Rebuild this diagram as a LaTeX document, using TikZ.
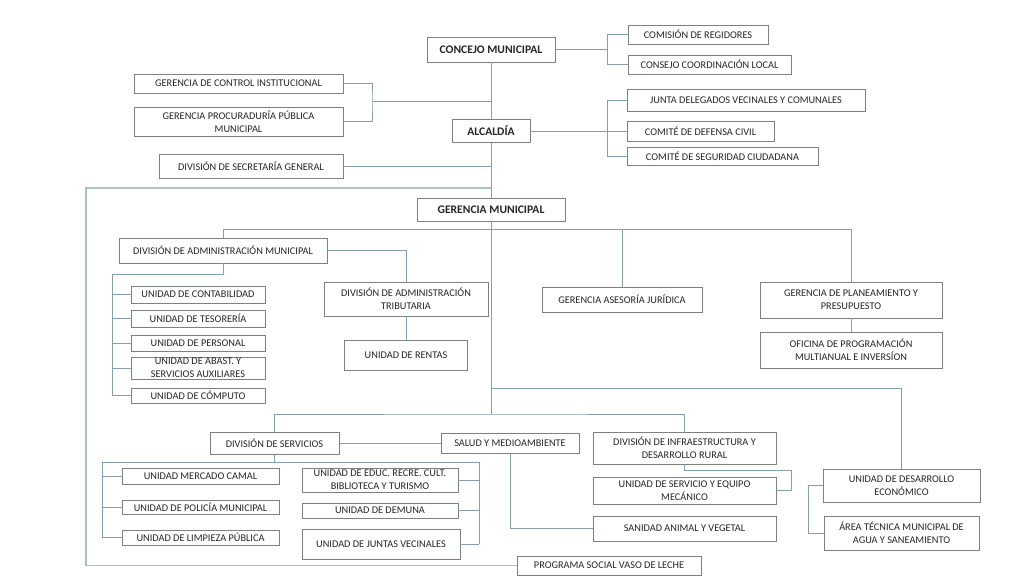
\documentclass[tikz,border=0pt]{standalone}
\usepackage{fontspec}
\setmainfont{Carlito}
\usepackage{tikz}

\definecolor{linea}{RGB}{132,160,178}
\definecolor{lineafuera}{RGB}{170,192,194}
\definecolor{borde}{RGB}{128,128,128}
\definecolor{texto}{RGB}{38,38,38}

\begin{document}
\begin{tikzpicture}[x=1pt, y=-1pt,
  caja/.style 2 args={draw=borde, line width=0.8pt, fill=white, inner sep=0pt,
    minimum width=#1pt, minimum height=#2pt, align=center, text=texto,
    font=\fontsize{10.3}{13}\selectfont},
  jefe/.style 2 args={caja={#1}{#2}, font=\fontsize{11.6}{13}\selectfont\bfseries},
  lin/.style={draw=linea, line width=0.8pt}]
  \useasboundingbox (0,0) rectangle (1024,576);

  % Concejo y Alcaldia
  \node[jefe={128}{25}] (concejo) at (491,49.5) {CONCEJO MUNICIPAL};
  \node[caja={140}{19}] (comreg) at (698,34.5) {COMISIÓN DE REGIDORES};
  \node[caja={163}{19}] (ccl) at (709.5,64.5) {CONSEJO COORDINACIÓN LOCAL};
  \node[jefe={78}{23}] (alcaldia) at (491,131) {ALCALDÍA};
  \node[caja={238}{22}] (junta) at (746,100) {JUNTA DELEGADOS VECINALES Y COMUNALES};
  \node[caja={147}{20}] (defensa) at (700.5,131) {COMITÉ DE DEFENSA CIVIL};
  \node[caja={191}{18}] (seguridad) at (722.5,156) {COMITÉ DE SEGURIDAD CIUDADANA};
  \node[caja={209}{19}] (gci) at (238.5,83.5) {GERENCIA DE CONTROL INSTITUCIONAL};
  \node[caja={209}{29}] (gpp) at (238.5,121.5) {GERENCIA PROCURADURÍA PÚBLICA\\MUNICIPAL};
  \node[caja={184}{24}] (secg) at (251,166) {DIVISIÓN DE SECRETARÍA GENERAL};
  \node[caja={184}{19}] (vaso) at (609,565.5) {PROGRAMA SOCIAL VASO DE LECHE};

  % Gerencia Municipal
  \node[jefe={148}{23}] (germ) at (491,209.5) {GERENCIA MUNICIPAL};
  \node[caja={208}{25}] (dam) at (223,250.5) {DIVISIÓN DE ADMINISTRACIÓN MUNICIPAL};
  \node[caja={134}{17}] (ucont) at (198,294.5) {UNIDAD DE CONTABILIDAD};
  \node[caja={134}{17}] (utes) at (198,318.5) {UNIDAD DE TESORERÍA};
  \node[caja={134}{16}] (upers) at (198,343) {UNIDAD DE PERSONAL};
  \node[caja={134}{22}] (uabas) at (198,368) {UNIDAD DE ABAST. Y\\SERVICIOS AUXILIARES};
  \node[caja={134}{15}] (ucomp) at (198,395.5) {UNIDAD DE CÓMPUTO};
  \node[caja={164}{34}] (dat) at (406,299) {DIVISIÓN DE ADMINISTRACIÓN\\TRIBUTARIA};
  \node[caja={123}{30}] (rentas) at (406,355) {UNIDAD DE RENTAS};
  \node[caja={160}{25}] (gaj) at (622,299.5) {GERENCIA ASESORÍA JURÍDICA};
  \node[caja={182}{36}] (gplan) at (851,300) {GERENCIA DE PLANEAMIENTO Y\\PRESUPUESTO};
  \node[caja={182}{36}] (opmi) at (851,350) {OFICINA DE PROGRAMACIÓN\\MULTIANUAL E INVERSÍON};

  % Servicios
  \node[caja={129}{22}] (dser) at (274.5,443) {DIVISIÓN DE SERVICIOS};
  \node[caja={138}{20}] (salud) at (510,443) {SALUD Y MEDIOAMBIENTE};
  \node[caja={157}{16}] (umer) at (200.5,476) {UNIDAD MERCADO CAMAL};
  \node[caja={157}{14}] (upol) at (200.5,507) {UNIDAD DE POLICÍA MUNICIPAL};
  \node[caja={157}{15}] (ulim) at (200.5,537.5) {UNIDAD DE LIMPIEZA PÚBLICA};
  \node[caja={156}{24}] (uedu) at (380,480) {UNIDAD DE EDUC. RECRE. CULT.\\BIBLIOTECA Y TURISMO};
  \node[caja={156}{15}] (udem) at (380,510.5) {UNIDAD DE DEMUNA};
  \node[caja={158}{30}] (ujv) at (381,544) {UNIDAD DE JUNTAS VECINALES};
  \node[caja={183}{32}] (dinf) at (684.5,448) {DIVISIÓN DE INFRAESTRUCTURA Y\\DESARROLLO RURAL};
  \node[caja={183}{27}] (usem) at (684.5,490.5) {UNIDAD DE SERVICIO Y EQUIPO\\MECÁNICO};
  \node[caja={183}{25}] (sanidad) at (684.5,528.5) {SANIDAD ANIMAL Y VEGETAL};
  \node[caja={157}{33}] (ude) at (901.5,485.5) {UNIDAD DE DESARROLLO\\ECONÓMICO};
  \node[caja={155}{34}] (atm) at (901.5,533) {ÁREA TÉCNICA MUNICIPAL DE\\AGUA Y SANEAMIENTO};

  % Puntos de union
  \coordinate (bcon) at (607,49.5);
  \coordinate (balc) at (607,131);
  \coordinate (bgc) at (372,101);
  \coordinate (bfuera) at (86,188);
  \coordinate (bus1) at (491,229);
  \coordinate (bus2) at (491,388);
  \coordinate (bus3) at (491,414);
  \coordinate (bdam) at (112,274);
  \coordinate (bsl) at (102,462);
  \coordinate (bsr) at (479,462);
  \coordinate (binf) at (791,470);
  \coordinate (bude) at (808,485.5);

  % Lineas
  \begin{scope}[lin]
    \draw (concejo) -- (alcaldia) -- (germ);
    \draw (concejo.east) -- (bcon);
    \draw (comreg.west) -| (bcon) |- (ccl.west);
    \draw (alcaldia.east) -- (defensa.west);
    \draw (junta.west) -| (balc) |- (seguridad.west);
    \draw (gci.east) -| (bgc) |- (gpp.east);
    \draw (bgc) -- (bgc -| alcaldia.north);
    \draw (secg.east) -- (secg.east -| alcaldia.south);

    \draw (germ.south) -- (bus3);
    \draw (bus1 -| dam.north) -- (bus1 -| gplan.north);
    \draw (bus1 -| dam.north) -- (dam.north);
    \draw (bus1 -| gaj.north) -- (gaj.north);
    \draw (bus1 -| gplan.north) -- (gplan.north);
    \draw (dam.east) -| (dat.north);
    \draw (dat) -- (rentas);
    \draw (gplan) -- (opmi);
    \draw (dam.south) |- (bdam) -- (bdam |- ucomp.west);
    \foreach \n in {ucont,utes,upers,uabas,ucomp}
      \draw (\n.west) -- (\n.west -| bdam);

    \draw (bus2) -| (ude.north);
    \draw (dser.north) |- (bus3) -| (dinf.north);
    \draw (dser.east) -- (salud.west);
    \draw (salud.south) |- (sanidad.west);
    \draw (dinf.south) |- (binf) |- (usem.east);
    \draw (ude.west) -| (bude) |- (atm.west);
    \draw (dser.south) -- (dser.south |- bsl);
    \draw (bsl |- ulim.west) -- (bsl) -- (bsr) -- (bsr |- ujv.east);
    \foreach \n in {umer,upol,ulim}
      \draw (\n.west) -- (\n.west -| bsl);
    \foreach \n in {uedu,udem,ujv}
      \draw (\n.east) -- (\n.east -| bsr);
  \end{scope}

  % Linea exterior
  \draw[draw=lineafuera, line width=1.3pt] (bfuera -| germ.north) -- (bfuera) |- (vaso.west);
\end{tikzpicture}
\end{document}
